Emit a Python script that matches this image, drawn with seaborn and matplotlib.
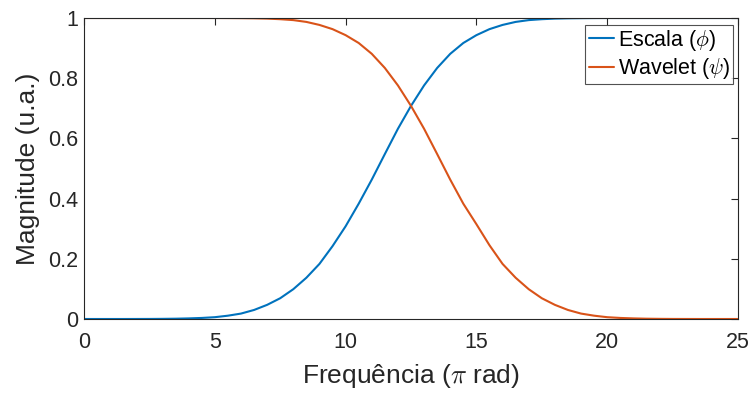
import numpy as np
import pandas as pd
import matplotlib
matplotlib.use("Agg")
import matplotlib.pyplot as plt
import seaborn as sns

# Frequency axis (pi rad)
freq = [0, 0.5, 1, 1.5, 2, 2.5, 3, 3.5, 4, 4.5, 5, 5.5, 6, 6.5, 7, 7.5, 8, 8.5, 9, 9.5,
        10, 10.5, 11, 11.5, 12, 12.5, 13, 13.5, 14, 14.5, 15, 15.5, 16, 16.5, 17, 17.5,
        18, 18.5, 19, 19.5, 20, 20.5, 21, 21.5, 22, 22.5, 23, 23.5, 24, 24.5, 25]

escala = [0, 0, 0, 0, 0.0001, 0.0002, 0.0005, 0.001, 0.002, 0.0035, 0.006, 0.011, 0.018,
          0.03, 0.047, 0.069, 0.099, 0.137, 0.183, 0.242, 0.308, 0.383, 0.463, 0.548,
          0.632, 0.708, 0.776, 0.834, 0.881, 0.917, 0.943, 0.963, 0.977, 0.987, 0.993,
          0.996, 0.998, 0.999, 0.9995, 0.9998, 1, 1, 1, 1, 1, 1, 1, 1, 1, 1, 1]

wavelet = [1, 1, 1, 1, 1, 1, 1, 1, 1, 1, 1, 0.9998, 0.9995, 0.999, 0.998, 0.996, 0.993,
           0.987, 0.977, 0.963, 0.943, 0.917, 0.881, 0.834, 0.776, 0.708, 0.632, 0.548,
           0.463, 0.383, 0.315, 0.245, 0.183, 0.137, 0.099, 0.069, 0.047, 0.03, 0.018,
           0.011, 0.006, 0.0035, 0.002, 0.001, 0.0005, 0.0002, 0.0001, 0, 0, 0, 0]

labels = [r"Escala ($\phi$)", r"Wavelet ($\psi$)"]
xticks = [0, 5, 10, 15, 20, 25]
yticks = [0, 0.2, 0.4, 0.6, 0.8, 1]
ytick_labels = ["0", "0.2", "0.4", "0.6", "0.8", "1"]

df = pd.DataFrame({
    "freq": freq + freq,
    "mag": escala + wavelet,
    "serie": [labels[0]] * len(freq) + [labels[1]] * len(freq),
})

sns.set_theme(style="white")
plt.rcParams["font.family"] = ["Liberation Sans", "DejaVu Sans"]
plt.rcParams["mathtext.fontset"] = "cm"

axc = "#262626"
fig = plt.figure(figsize=(7.53, 3.94), dpi=100)
ax = fig.add_axes([84 / 753, 1 - 319 / 394, (738 - 84) / 753, (319 - 18) / 394])

sns.lineplot(data=df, x="freq", y="mag", hue="serie", palette=["#0072BD", "#D95319"],
             linewidth=1.5, ax=ax, legend=True)

ax.set_xlim(0, 25)
ax.set_ylim(0, 1)
ax.set_xticks(xticks)
ax.set_xticklabels([str(t) for t in xticks])
ax.set_yticks(yticks)
ax.set_yticklabels(ytick_labels)
ax.tick_params(direction="in", length=5, width=0.8, colors=axc, labelsize=15.5,
               top=True, right=True, labelcolor="#262626")
ax.tick_params(axis="x", pad=9)
ax.tick_params(axis="y", pad=4)
for s in ax.spines.values():
    s.set_color(axc)
    s.set_linewidth(0.8)
ax.set_xlabel(r"Frequência ($\pi$ rad)", fontsize=19, color=axc, labelpad=7)
ax.set_ylabel("Magnitude (u.a.)", fontsize=19, color=axc, labelpad=6)

leg = ax.legend(loc="upper right", bbox_to_anchor=(0.993, 0.978), fontsize=15.5,
                frameon=True, fancybox=False, handlelength=1.2, handletextpad=0.15,
                borderpad=0.15, labelspacing=0.15, borderaxespad=0)
leg.get_frame().set_edgecolor(axc)
leg.get_frame().set_linewidth(0.8)
for t in leg.get_texts():
    t.set_color("black")

fig.savefig("out.png", dpi=100)
